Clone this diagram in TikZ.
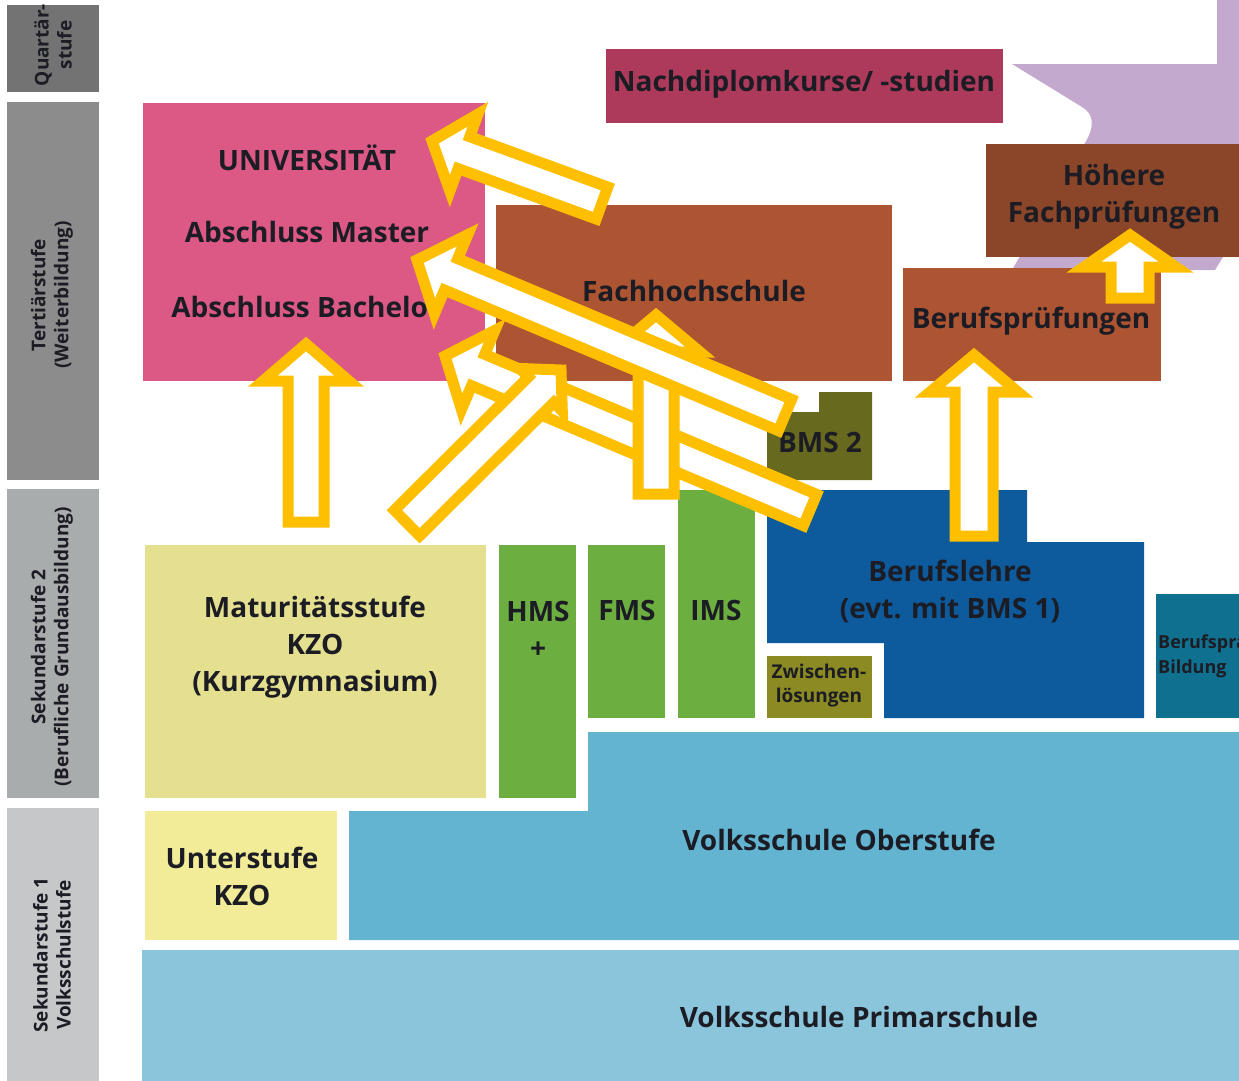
\documentclass[tikz,border=0pt]{standalone}
\usepackage{fontspec}
\setmainfont{Open Sans}
\usetikzlibrary{calc}

\definecolor{quartgray}{HTML}{737373}
\definecolor{tertgray}{HTML}{8C8C8C}
\definecolor{sekgray}{HTML}{A9ACAC}
\definecolor{volkgray}{HTML}{C6C7C9}
\definecolor{unipink}{HTML}{DC5985}
\definecolor{ndkred}{HTML}{AD3A5B}
\definecolor{hfpbrown}{HTML}{8B4528}
\definecolor{fhsbrown}{HTML}{AD5433}
\definecolor{bmsolive}{HTML}{67691E}
\definecolor{zwlolive}{HTML}{8C8A22}
\definecolor{lilac}{HTML}{C4A9CF}
\definecolor{matkhaki}{HTML}{E5DF90}
\definecolor{untyellow}{HTML}{F2EB98}
\definecolor{msgreen}{HTML}{6CAF40}
\definecolor{blblue}{HTML}{0D5A9C}
\definecolor{bpbteal}{HTML}{10708F}
\definecolor{oberblue}{HTML}{62B4D1}
\definecolor{primblue}{HTML}{8AC5DB}
\definecolor{arrowgold}{HTML}{FDBF00}
\definecolor{textdark}{HTML}{1C1C24}

\tikzset{
  box/.style={inner sep=0pt, outer sep=0pt},
  lbl/.style={font=\fontsize{28}{37}\selectfont\bfseries, text=textdark, align=center, inner sep=0pt},
  sidelbl/.style={font=\fontsize{19}{23}\selectfont\bfseries, text=textdark, align=center, inner sep=0pt, rotate=90},
  smalllbl/.style={font=\fontsize{19}{24}\selectfont\bfseries, text=textdark, align=center, inner sep=0pt},
  bigarrow/.style={draw=arrowgold, fill=white, line width=11pt, line join=miter},
}

\newcommand{\blockarrow}[5]{%
  \coordinate (#1b) at ($(#2)!#5pt!(#1)$);
  \filldraw[bigarrow] ($(#1)!#3pt!90:(#2)$) -- ($(#1b)!#3pt!90:(#2)$) -- ($(#1b)!#4pt!90:(#2)$) -- (#2)
    -- ($(#1b)!#4pt!-90:(#2)$) -- ($(#1b)!#3pt!-90:(#2)$) -- ($(#1)!#3pt!-90:(#2)$) -- cycle;
}

\begin{document}
\begin{tikzpicture}[x=1pt, y=-1pt]
\useasboundingbox (0,0) rectangle (1239,1080);
\clip (0,0) rectangle (1239,1080);

\node[box, fill=quartgray, minimum width=92pt, minimum height=87pt] (quartbox) at (53,48.5) {};
\node[box, fill=tertgray, minimum width=92pt, minimum height=378pt] (tertbox) at (53,291) {};
\node[box, fill=sekgray, minimum width=92pt, minimum height=309pt] (sek2box) at (53,643.5) {};
\node[box, fill=volkgray, minimum width=92pt, minimum height=280pt] (sek1box) at (53,948) {};
\node[sidelbl] (quartlbl) at (53,45) {Quartär-\\stufe};
\node[sidelbl] (tertlbl) at (52,295) {Tertiärstufe\\(Weiterbildung)};
\node[sidelbl] (sek2lbl) at (52,647) {Sekundarstufe 2\\(Berufliche Grundausbildung)};
\node[sidelbl] (sek1lbl) at (52,955) {Sekundarstufe 1\\Volksschulstufe};

\fill[lilac] (1217,-5) -- (1245,-5) -- (1245,257) -- (1223,257) -- (1215,270) -- (1012,270) -- (1085,143)
  .. controls (1095,126) and (1094,114) .. (1082,107) -- (1012,64) -- (1217,64) -- cycle;

\node[box, fill=unipink, minimum width=342pt, minimum height=278pt] (unibox) at (314,242) {};
\node[box, fill=ndkred, minimum width=397pt, minimum height=74pt] (ndkbox) at (804.5,86) {};
\node[box, fill=hfpbrown, minimum width=260pt, minimum height=113pt] (hfpbox) at (1116,200.5) {};
\node[box, fill=fhsbrown, minimum width=396pt, minimum height=176pt] (fhsbox) at (694,293) {};
\node[box, fill=fhsbrown, minimum width=258pt, minimum height=113pt] (bpbox) at (1032,324.5) {};
\fill[bmsolive] (767,412) -- (819,412) -- (819,392) -- (872,392) -- (872,480) -- (767,480) -- cycle;
\fill[blblue] (767,490) -- (1027,490) -- (1027,542) -- (1144,542) -- (1144,718) -- (884,718) -- (884,643) -- (767,643) -- cycle;
\node[box, fill=matkhaki, minimum width=341pt, minimum height=253pt] (matbox) at (315.5,671.5) {};
\node[box, fill=msgreen, minimum width=77pt, minimum height=253pt] (hmsbox) at (537.5,671.5) {};
\node[box, fill=msgreen, minimum width=77pt, minimum height=173pt] (fmsbox) at (626.5,631.5) {};
\node[box, fill=msgreen, minimum width=77pt, minimum height=228pt] (imsbox) at (716.5,604) {};
\node[box, fill=zwlolive, minimum width=105pt, minimum height=62pt] (zwlbox) at (819.5,687) {};
\node[box, fill=bpbteal, minimum width=94pt, minimum height=124pt] (bpbbox) at (1203,656) {};
\fill[oberblue] (349,811) -- (588,811) -- (588,732) -- (1250,732) -- (1250,940) -- (349,940) -- cycle;
\node[box, fill=untyellow, minimum width=192pt, minimum height=129pt] (untbox) at (241,875.5) {};
\node[box, fill=primblue, minimum width=1108pt, minimum height=140pt] (primbox) at (696,1020) {};

\node[lbl] (unilbl) at (307,158) {UNIVERSITÄT};
\node[lbl] (masterlbl) at (307,232) {Abschluss Master};
\node[lbl] (bachlbl) at (306,307) {Abschluss Bachelor};
\node[lbl] (ndklbl) at (804,84) {Nachdiplomkurse/ -studien};
\node[lbl] (hfplbl) at (1114,197) {Höhere\\Fachprüfungen};
\node[lbl] (fhslbl) at (694,291) {Fachhochschule};
\node[lbl] (bplbl) at (1031,321) {Berufsprüfungen};
\node[lbl] (bmslbl) at (820,442) {BMS 2};
\node[lbl] (bllbl) at (950,591) {Berufslehre\\(evt. mit BMS 1)};
\node[lbl] (matlbl) at (315,647) {Maturitätsstufe\\KZO\\(Kurzgymnasium)};
\node[lbl] (hmslbl) at (538,630) {HMS\\+};
\node[lbl] (fmslbl) at (627,610) {FMS};
\node[lbl] (imslbl) at (716,610) {IMS};
\node[smalllbl] (zwllbl) at (819,686) {Zwischen-\\lösungen};
\node[smalllbl, align=left, anchor=west, font=\fontsize{18}{25}\selectfont\bfseries] (bpblbl) at (1158,656) {Berufspraktische\\Bildung};
\node[lbl] (untlbl) at (242,876) {Unterstufe\\KZO};
\node[lbl] (oberlbl) at (839,840) {Volksschule Oberstufe};
\node[lbl] (primlbl) at (859,1017) {Volksschule Primarschule};

\coordinate (matup) at (306,522);
\coordinate (unitip) at (306,344);
\coordinate (blup) at (974,536);
\coordinate (bptip) at (974,355);
\coordinate (bpup) at (1130,298);
\coordinate (hfptip) at (1130,235);
\coordinate (fhsup) at (602,203);
\coordinate (unitoptip) at (432,141);
\coordinate (bmsup) at (785,415);
\coordinate (mastertip) at (417,260);
\coordinate (bllow) at (810,510);
\coordinate (bachtip) at (445,356);
\coordinate (matright) at (407,523);
\coordinate (fhstip) at (561,370);
\coordinate (imsup) at (656,494);
\coordinate (fhsmid) at (656,315);

\blockarrow{matup}{unitip}{18}{43}{37}
\blockarrow{blup}{bptip}{19}{44}{37}
\blockarrow{bpup}{hfptip}{19}{46}{32}
\blockarrow{fhsup}{unitoptip}{17}{41}{34}
\blockarrow{bllow}{bachtip}{17}{43}{36}
\blockarrow{matright}{fhstip}{18}{30}{28}
\blockarrow{imsup}{fhsmid}{18}{44}{37}
\blockarrow{bmsup}{mastertip}{17}{43}{37}
\end{tikzpicture}
\end{document}
